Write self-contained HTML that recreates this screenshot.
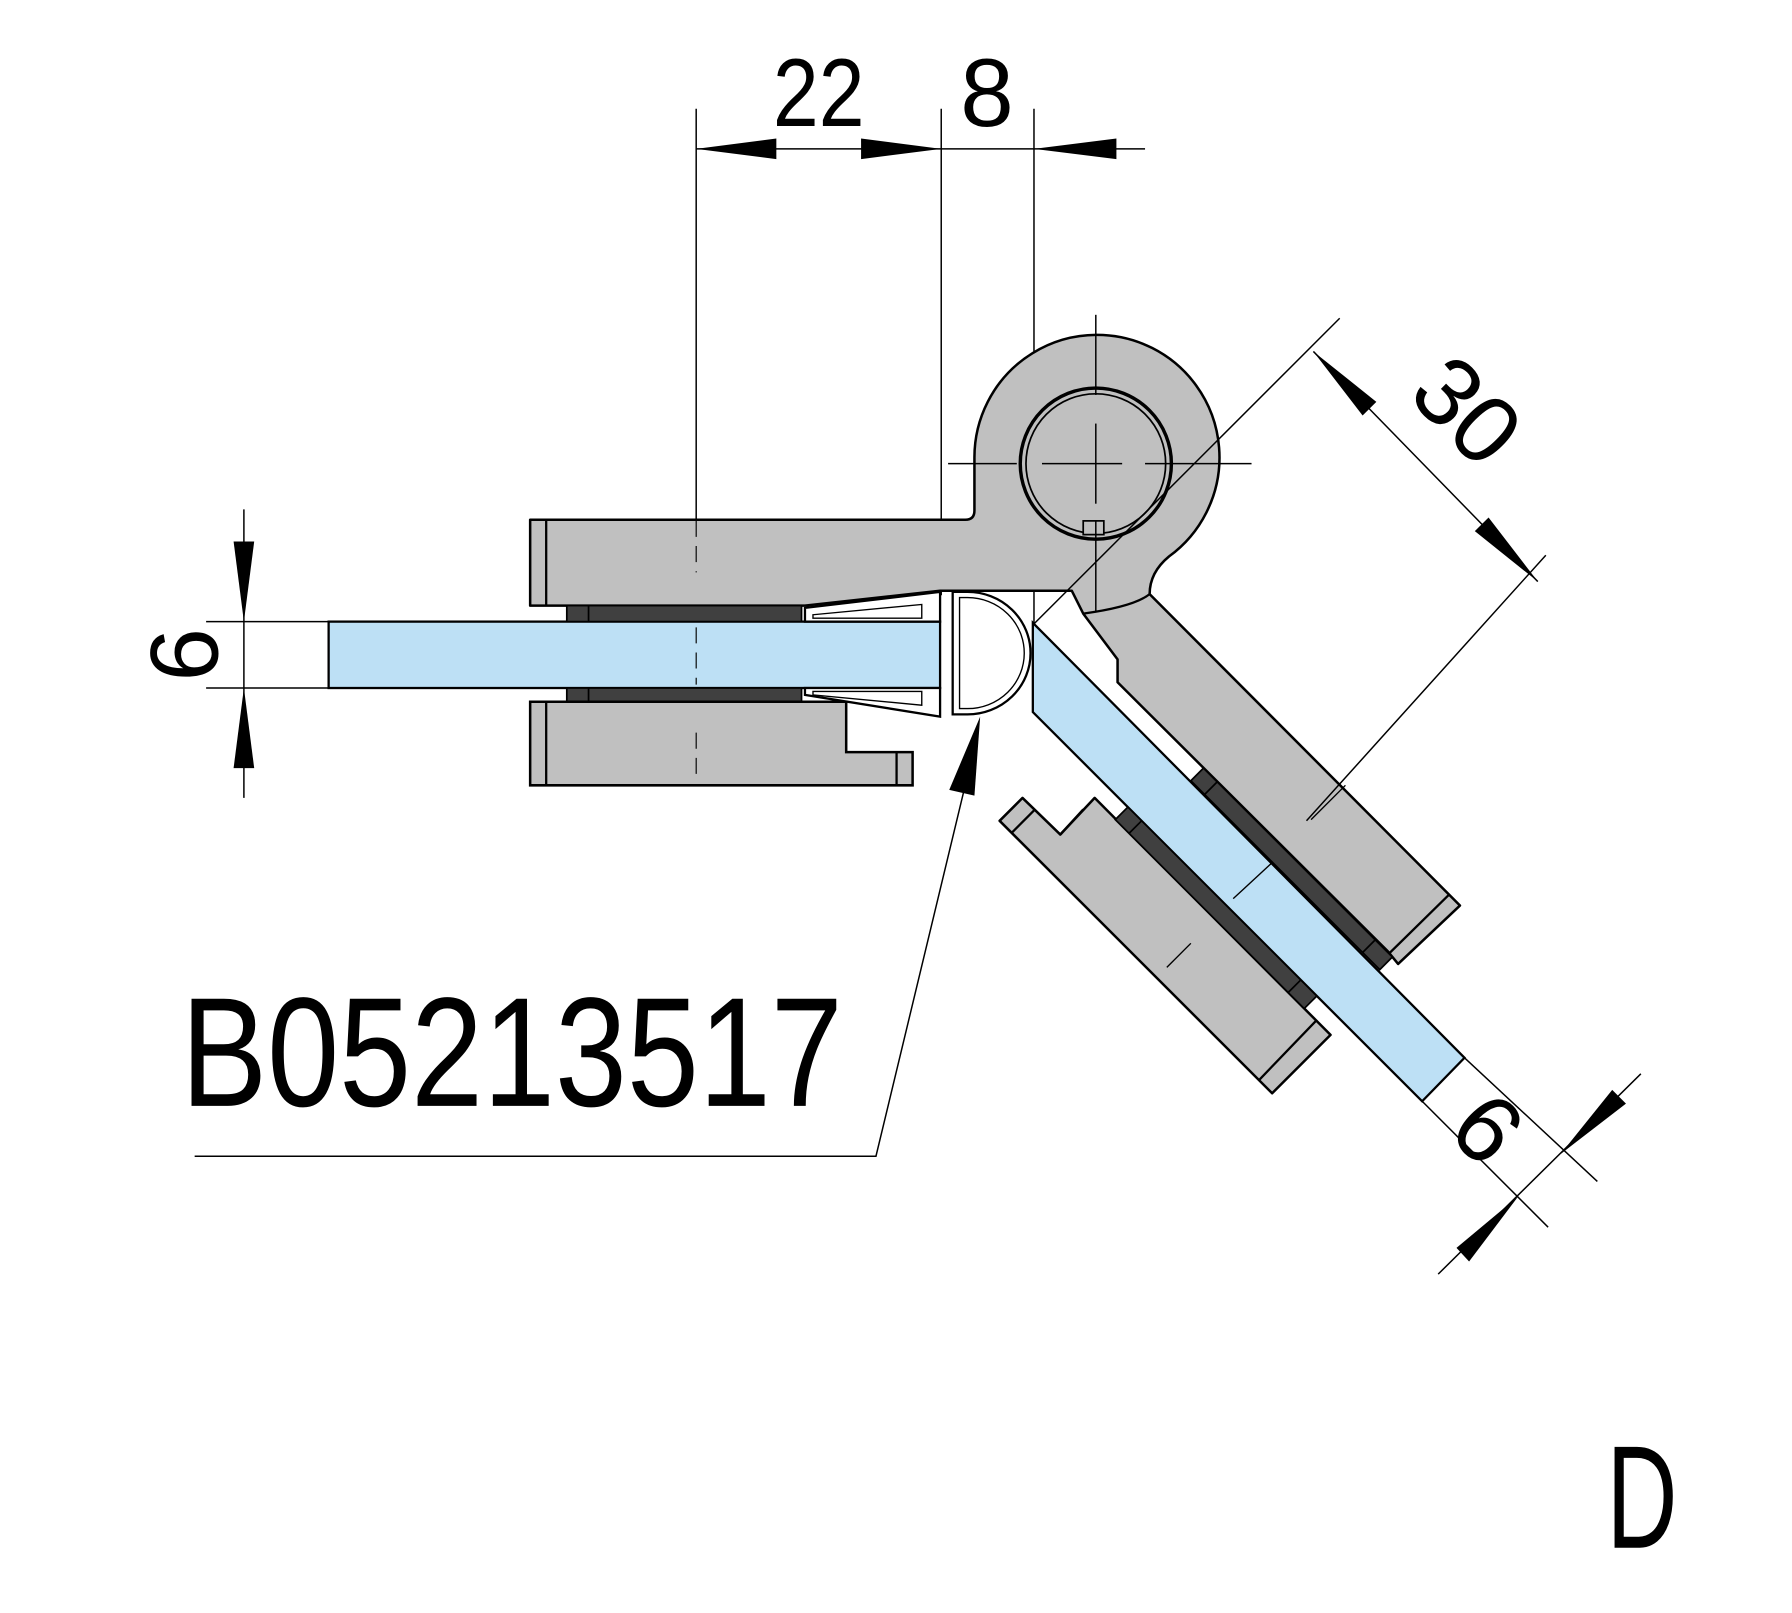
<!DOCTYPE html>
<html><head><meta charset="utf-8"><style>
html,body{margin:0;padding:0;background:#fff}
svg{display:block}
text{font-family:"Liberation Sans",sans-serif;fill:#000}
</style></head><body>
<svg width="1792" height="1613" viewBox="0 0 1565 1409" preserveAspectRatio="none" xmlns="http://www.w3.org/2000/svg">
<g stroke="#000" stroke-width="1.3" fill="none">
<line x1="608" y1="95" x2="608" y2="500"/>
<line x1="822" y1="95" x2="822" y2="520"/>
<line x1="903" y1="95" x2="903" y2="545"/>
<line x1="608" y1="130" x2="1000" y2="130"/>
</g>
<g fill="#000">
<polygon points="608,130 678,121 678,139"/>
<polygon points="822,130 752,121 752,139"/>
<polygon points="903,130 975,121 975,139"/>
</g>
<text x="715" y="110" font-size="84" text-anchor="middle" textLength="80" lengthAdjust="spacingAndGlyphs">22</text>
<text x="862" y="110" font-size="84" text-anchor="middle">8</text>

<path d="M463,454 L843,454 Q851,454 851,446 L851,400 A107,107 0 1 1 1021,486 Q1004,500 1004,519 L1275,791 L1221,842 L1212,831 L976,596 L976,576 L946,536 L936,516 L821,516 L703,529 L463,529 Z" fill="#c0c0c0" stroke="#000" stroke-width="2.2" stroke-linejoin="round"/>
<line x1="477" y1="454" x2="477" y2="529" stroke="#000" stroke-width="2"/>
<path d="M946,536 Q990,530 1004,519" fill="none" stroke="#000" stroke-width="2"/>
<line x1="1265" y1="782" x2="1212" y2="834" stroke="#000" stroke-width="2"/>
<circle cx="957" cy="405" r="66" fill="#c0c0c0" stroke="#000" stroke-width="3"/>
<circle cx="957" cy="405" r="61" fill="none" stroke="#000" stroke-width="1.5"/>
<rect x="946" y="455" width="18" height="12" fill="#c0c0c0" stroke="#000" stroke-width="1.5"/>
<g stroke="#000" stroke-width="1.3">
<line x1="828" y1="405" x2="888" y2="405"/>
<line x1="910" y1="405" x2="980" y2="405"/>
<line x1="1000" y1="405" x2="1093" y2="405"/>
<line x1="957" y1="275" x2="957" y2="345"/>
<line x1="957" y1="370" x2="957" y2="440"/>
<line x1="957" y1="455" x2="957" y2="535"/>
</g>

<rect x="287" y="543" width="534" height="58" fill="#bde0f5" stroke="#000" stroke-width="2"/>
<rect x="495" y="529" width="205" height="14" fill="#404040" stroke="#000" stroke-width="1.5"/>
<rect x="495" y="601" width="205" height="12" fill="#404040" stroke="#000" stroke-width="1.5"/>
<line x1="514" y1="529" x2="514" y2="543" stroke="#000" stroke-width="1.5"/>
<line x1="514" y1="601" x2="514" y2="613" stroke="#000" stroke-width="1.5"/>
<path d="M703,531 L821,517 L821,543 L703,543 Z" fill="#fff" stroke="#000" stroke-width="2"/>
<path d="M710,537 L805,528 L805,540 L710,540 Z" fill="none" stroke="#000" stroke-width="1.2"/>
<path d="M703,601 L821,601 L821,626 L703,607 Z" fill="#fff" stroke="#000" stroke-width="2"/>
<path d="M710,604 L805,604 L805,616 L710,607 Z" fill="none" stroke="#000" stroke-width="1.2"/>
<path d="M463,613 L739,613 L739,657 L797,657 L797,686 L463,686 Z" fill="#c0c0c0" stroke="#000" stroke-width="2.2"/>
<line x1="477" y1="613" x2="477" y2="686" stroke="#000" stroke-width="2"/>
<line x1="783" y1="657" x2="783" y2="686" stroke="#000" stroke-width="2"/>
<path d="M832,517 L845,517 A55,53.5 0 0 1 845,624 L832,624 Z" fill="#fff" stroke="#000" stroke-width="2"/>
<path d="M838,522 L845,522 A49,48 0 0 1 845,619 L838,619 Z" fill="none" stroke="#000" stroke-width="1.2"/>
<g stroke="#000" stroke-width="1" stroke-dasharray="14,8">
<line x1="608" y1="455" x2="608" y2="500"/>
<line x1="608" y1="548" x2="608" y2="598"/>
<line x1="608" y1="640" x2="608" y2="680"/>
</g>

<polygon points="902,544 1279,924 1242,962 902,622" fill="#bde0f5" stroke="#000" stroke-width="2"/>
<line x1="1077" y1="785" x2="1117" y2="748" stroke="#000" stroke-width="1.2"/>
<polygon points="1040,682 1205,847 1216,836 1051,671" fill="#404040" stroke="#000" stroke-width="1.5"/>
<line x1="1052" y1="694" x2="1063" y2="683" stroke="#000" stroke-width="1.5"/>
<line x1="1190" y1="832" x2="1201" y2="821" stroke="#000" stroke-width="1.5"/>
<polygon points="873,717 893,697 926,729 956,697 1162,904 1111,955" fill="#c0c0c0" stroke="#000" stroke-width="2.2" stroke-linejoin="round"/>
<line x1="904" y1="707" x2="884" y2="727" stroke="#000" stroke-width="2"/>
<line x1="946" y1="707" x2="926" y2="729" stroke="#000" stroke-width="2"/>
<line x1="1149" y1="892" x2="1100" y2="943" stroke="#000" stroke-width="2"/>
<polygon points="985,705 1150,870 1139,881 974,716" fill="#404040" stroke="#000" stroke-width="1.5"/>
<line x1="997" y1="717" x2="986" y2="728" stroke="#000" stroke-width="1.5"/>
<line x1="1136" y1="856" x2="1125" y2="867" stroke="#000" stroke-width="1.5"/>
<line x1="1019" y1="845" x2="1040" y2="824" stroke="#000" stroke-width="1.2"/>
<line x1="1145" y1="716" x2="1175" y2="686" stroke="#000" stroke-width="1.2"/>

<g stroke="#000" stroke-width="1.3">
<line x1="1170" y1="278" x2="903" y2="545"/>
<line x1="1350" y1="485" x2="1141" y2="717"/>
<line x1="1147" y1="307" x2="1343" y2="508"/>
</g>
<g fill="#000">
<polygon points="1147,307 1202,351 1190,363"/>
<polygon points="1343,508 1300,452 1288,464"/>
</g>
<text x="0" y="0" font-size="84" text-anchor="middle" transform="translate(1282,358) rotate(45) translate(0,30)">30</text>

<g stroke="#000" stroke-width="1.3">
<line x1="1279" y1="924" x2="1395" y2="1032"/>
<line x1="1242" y1="962" x2="1352" y2="1072"/>
<line x1="1433" y1="938" x2="1256" y2="1113"/>
</g>
<g fill="#000">
<polygon points="1363,1008 1408,952 1420,964"/>
<polygon points="1326,1045 1272,1090 1283,1102"/>
</g>
<text x="0" y="0" font-size="84" text-anchor="middle" transform="translate(1300,985) rotate(45) translate(0,30)">6</text>

<g stroke="#000" stroke-width="1.3">
<line x1="213" y1="445" x2="213" y2="697"/>
<line x1="180" y1="543" x2="287" y2="543"/>
<line x1="180" y1="601" x2="287" y2="601"/>
</g>
<g fill="#000">
<polygon points="213,543 204,473 222,473"/>
<polygon points="213,601 204,671 222,671"/>
</g>
<text x="0" y="0" font-size="84" text-anchor="middle" transform="translate(160,572) rotate(-90) translate(0,30)">6</text>

<polyline points="170,1010 765,1010 848,665" fill="none" stroke="#000" stroke-width="1.3"/>
<polygon points="856,626 829,690 851,695" fill="#000"/>
<text x="158" y="966" font-size="136" textLength="578" lengthAdjust="spacingAndGlyphs">B05213517</text>

<text x="1403" y="1352" font-size="128" textLength="62" lengthAdjust="spacingAndGlyphs">D</text>
</svg>
</body></html>
